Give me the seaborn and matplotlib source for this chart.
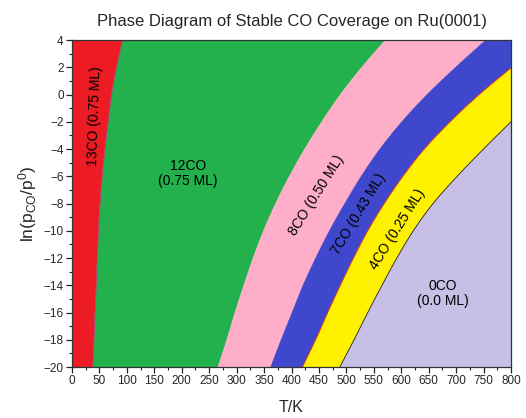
import matplotlib
matplotlib.use("Agg")
import matplotlib.pyplot as plt
import numpy as np
import pandas as pd
import seaborn as sns

# ln(p_CO/p0) levels at which the phase boundaries are tabulated
ln_p = [-20, -18, -16, -14, -12, -10, -8, -6, -4, -2, 0, 2, 4]

# Boundary temperatures (K) at each ln(p) level
T_13_12 = [38, 40, 42, 44, 46, 48, 51, 55, 60, 66, 72, 81, 92]
T_12_8 = [266, 282, 297, 313, 330, 349, 371, 396, 424, 455, 489, 528, 571]
T_8_7 = [362, 381, 401, 421, 444, 469, 497, 527, 561, 601, 647, 699, 754]
# These two leave the plot through the right edge (T = 800 K)
T_7_4 = [420, 444, 466, 489, 513, 539, 569, 603, 642, 689, 742, 800]
lnp_7_4 = [-20, -18, -16, -14, -12, -10, -8, -6, -4, -2, 0, 1.95]
T_4_0 = [488, 514, 539, 565, 592, 622, 658, 702, 750, 800]
lnp_4_0 = [-20, -18, -16, -14, -12, -10, -8, -6, -4, -2.0]

phase_names = ["13CO", "12CO", "8CO", "7CO", "4CO", "0CO"]
coverage = ["0.75 ML", "0.75 ML", "0.50 ML", "0.43 ML", "0.25 ML", "0.0 ML"]
phase_colors = ["#ED1C24", "#22B14C", "#FFAEC9", "#3F48CC", "#FFF200", "#C8BFE7"]

T_MIN, T_MAX = 0, 800
Y_MIN, Y_MAX = -20, 4


def smooth_curve(T, y, n=12):
    """Cubic Hermite curve through the tabulated (T, y) nodes, T as a function of y."""
    T = np.asarray(T, float)
    y = np.asarray(y, float)
    m = np.empty_like(T)
    m[1:-1] = (T[2:] - T[:-2]) / (y[2:] - y[:-2])
    m[0] = (T[1] - T[0]) / (y[1] - y[0])
    m[-1] = (T[-1] - T[-2]) / (y[-1] - y[-2])
    xs, ys = [T[0]], [y[0]]
    for i in range(len(T) - 1):
        h = y[i + 1] - y[i]
        s = np.linspace(0, 1, n + 1)[1:]
        h00 = 2 * s**3 - 3 * s**2 + 1
        h10 = s**3 - 2 * s**2 + s
        h01 = -2 * s**3 + 3 * s**2
        h11 = s**3 - s**2
        xs.extend(h00 * T[i] + h10 * h * m[i] + h01 * T[i + 1] + h11 * h * m[i + 1])
        ys.extend(y[i] + s * h)
    return list(zip(xs, ys))


sns.set_theme(style="ticks")
plt.rcParams["font.family"] = ["Liberation Sans", "DejaVu Sans"]
plt.rcParams["mathtext.fontset"] = "custom"
plt.rcParams["mathtext.rm"] = "Liberation Sans"
plt.rcParams["mathtext.it"] = "Liberation Sans"

fig = plt.figure(figsize=(5.26, 4.18), dpi=100)
ax = fig.add_axes([0.1369, 0.122, 0.8346, 0.7823])

b1 = smooth_curve(T_13_12, ln_p)
b2 = smooth_curve(T_12_8, ln_p)
b3 = smooth_curve(T_8_7, ln_p)
b4 = smooth_curve(T_7_4, lnp_7_4)
b5 = smooth_curve(T_4_0, lnp_4_0)

regions = [
    [(T_MIN, Y_MIN)] + b1 + [(T_MIN, Y_MAX)],
    b1 + b2[::-1],
    b2 + b3[::-1],
    b3 + [(T_MAX, Y_MAX)] + b4[::-1],
    b4 + b5[::-1],
    b5 + [(T_MAX, Y_MIN)],
]
for poly, col in zip(regions, phase_colors):
    xs, ys = zip(*poly)
    ax.fill(xs, ys, color=col, lw=0.3, ec=col, zorder=1)

# thin boundary traces
for curve, c in [(b1, "#D0307A"), (b4, "#D02020"), (b5, "#222222")]:
    df = pd.DataFrame(curve, columns=["T", "lnp"])
    sns.lineplot(data=df, x="T", y="lnp", sort=False, estimator=None,
                 color=c, lw=0.6, ax=ax, zorder=2)

ax.set_xlim(T_MIN, T_MAX)
ax.set_ylim(Y_MIN, Y_MAX)
ax.set_xticks(np.arange(0, 801, 50))
ax.set_xticks(np.arange(0, 801, 25), minor=True)
ax.set_yticks(np.arange(-20, 5, 2))
ax.set_yticks(np.arange(-20, 5, 1), minor=True)
ax.tick_params(axis="both", which="major", direction="out", length=4,
               width=0.9, labelsize=8.5, color="#222222", pad=2)
ax.tick_params(axis="both", which="minor", direction="out", length=2.5,
               width=0.8, color="#222222")
for s in ax.spines.values():
    s.set_linewidth(0.9)
    s.set_color("#333333")
    s.set_zorder(5)

ax.set_xlabel("T/K", fontsize=11.5, labelpad=9)
ax.set_ylabel(r"ln(p$_{\rm CO}$/p$^{\rm 0}$)", fontsize=12.5, labelpad=3)
ax.set_title("Phase Diagram of Stable CO Coverage on Ru(0001)", fontsize=12,
             pad=10, x=0.5)

lab = dict(fontsize=10, color="black", ha="center", va="center", zorder=4)
ax.text(42, -1.6, f"{phase_names[0]} ({coverage[0]})", rotation=88, **lab)
ax.text(211, -5.8, f"{phase_names[1]}\n({coverage[1]})", linespacing=1.1, **lab)
ax.text(445, -7.4, f"{phase_names[2]} ({coverage[2]})", rotation=58, **lab)
ax.text(523, -8.8, f"{phase_names[3]} ({coverage[3]})", rotation=59, **lab)
ax.text(593, -9.9, f"{phase_names[4]} ({coverage[4]})", rotation=58, **lab)
ax.text(676, -14.6, f"{phase_names[5]}\n({coverage[5]})", linespacing=1.1, **lab)

fig.savefig("out.png", dpi=100)
